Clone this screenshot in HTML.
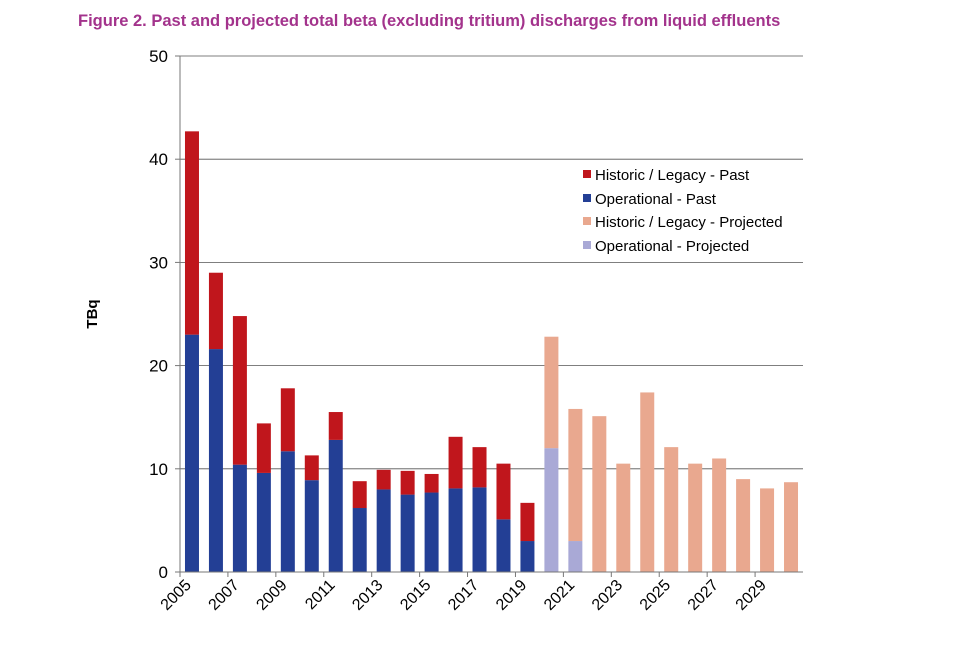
<!DOCTYPE html>
<html><head><meta charset="utf-8"><style>
body{margin:0;background:#fff;}
svg text{font-family:"Liberation Sans",sans-serif;}
</style></head><body>
<svg id="chart" width="960" height="640" xmlns="http://www.w3.org/2000/svg">
<text x="78" y="26" font-size="16.5" font-weight="bold" fill="#a3338c">Figure 2.   Past and projected total beta (excluding tritium) discharges from liquid effluents</text>
<text transform="translate(97,314) rotate(-90)" text-anchor="middle" font-size="15" font-weight="bold" fill="#000">TBq</text>
<g id="grid"></g><g id="bars"></g><g id="axes"></g>
<g font-size="15" fill="#000">
<rect x="583" y="170" width="8" height="8" fill="#c0161c"/><text x="595" y="180">Historic / Legacy - Past</text>
<rect x="583" y="194" width="8" height="8" fill="#233f95"/><text x="595" y="204">Operational - Past</text>
<rect x="583" y="217" width="8" height="8" fill="#e9a88f"/><text x="595" y="227">Historic / Legacy - Projected</text>
<rect x="583" y="241" width="8" height="8" fill="#a9a9d6"/><text x="595" y="251">Operational - Projected</text>
</g>
</svg>
<script>
const years=[2005,2006,2007,2008,2009,2010,2011,2012,2013,2014,2015,2016,2017,2018,2019,2020,2021,2022,2023,2024,2025,2026,2027,2028,2029,2030];
const operational=[23,21.6,10.4,9.6,11.7,8.9,12.8,6.2,8.0,7.5,7.7,8.1,8.2,5.1,3.0,12.0,3.0,0,0,0,0,0,0,0,0,0];
const totals=[42.7,29,24.8,14.4,17.8,11.3,15.5,8.8,9.9,9.8,9.5,13.1,12.1,10.5,6.7,22.8,15.8,15.1,10.5,17.4,12.1,10.5,11.0,9.0,8.1,8.7];
const projectedFrom=2020;
const yTicks=[0,10,20,30,40,50];
const X0=180,X1=803,Y0=572,Y1=56;
const bw=(X1-X0)/years.length;
const y=v=>Y0-(v/50)*(Y0-Y1);
const xs=i=>X0+i*bw;
const NS="http://www.w3.org/2000/svg";
function mk(tag,attrs,parent,txt){const e=document.createElementNS(NS,tag);for(const k in attrs)e.setAttribute(k,attrs[k]);if(txt!==undefined)e.textContent=txt;parent.appendChild(e);return e;}
const grid=document.getElementById('grid'),bars=document.getElementById('bars'),axes=document.getElementById('axes');
yTicks.forEach(t=>{
 if(t>0){const l=mk('line',{x1:X0,x2:X1,y1:y(t),y2:y(t),stroke:'#555','stroke-width':0.8},grid);
 
 }
 const tx=mk('text',{x:X0-12,y:y(t)+6,'text-anchor':'end','font-size':17,fill:'#000'},axes,String(t));
 
 
 mk('line',{x1:X0-5,x2:X0,y1:y(t),y2:y(t),stroke:'#777'},axes);
});
years.forEach((yr,i)=>{
 const proj=yr>=projectedFrom;
 const cx=xs(i)+bw/2,w=14;
 const op=operational[i],tot=totals[i];
 if(op>0){const r=mk('rect',{x:cx-w/2,y:y(op),width:w,height:Y0-y(op),fill:proj?'#a9a9d6':'#233f95'},bars);
 
 }
 const r2=mk('rect',{x:cx-w/2,y:y(tot),width:w,height:y(op)-y(tot),fill:proj?'#e9a88f':'#c0161c'},bars);
 
 
 if(i%2===0){
  mk('line',{x1:xs(i),x2:xs(i),y1:Y0,y2:Y0+5,stroke:'#777'},axes);
  const t=mk('text',{x:0,y:0,'text-anchor':'end','font-size':16,fill:'#000',transform:`translate(${xs(i)+12},${Y0+14}) rotate(-45)`},axes,String(yr));
  
  
 }
});
mk('line',{x1:X0,x2:X0,y1:Y1,y2:Y0,stroke:'#777'},axes);
mk('line',{x1:X0,x2:X1,y1:Y0,y2:Y0,stroke:'#777'},axes);
</script>
</body></html>
